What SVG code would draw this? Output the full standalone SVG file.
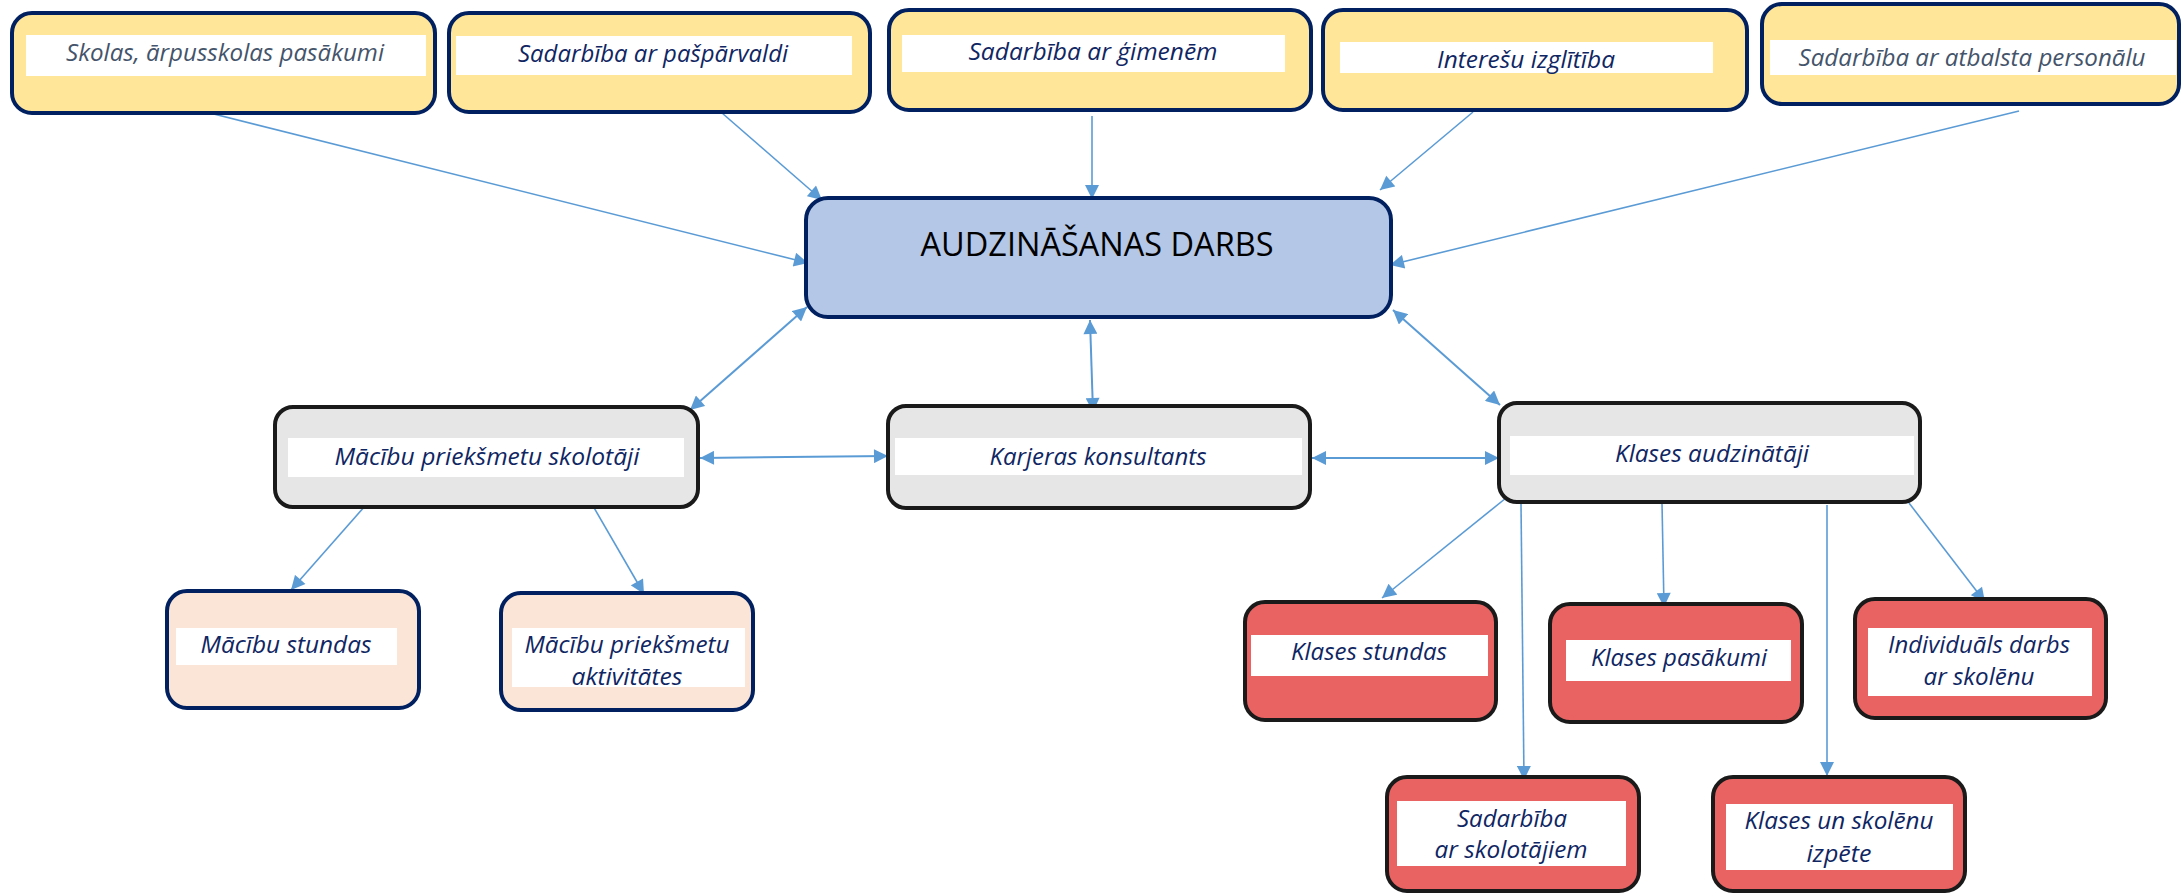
<svg xmlns="http://www.w3.org/2000/svg" width="2181" height="894" viewBox="0 0 2181 894">
<style>
.yel{fill:#ffe699;stroke:#002060;stroke-width:4}
.main{fill:#b4c7e7;stroke:#002060;stroke-width:4}
.gray{fill:#e6e6e6;stroke:#1a1a1a;stroke-width:4}
.peach{fill:#fbe5d6;stroke:#002060;stroke-width:4}
.red{fill:#e96363;stroke:#1a1a1a;stroke-width:4}
.lbl{fill:#ffffff;stroke:none}
.t{font-family:"Open Sans","Liberation Sans",sans-serif;font-style:italic;font-size:23px;fill:#0f2663;text-anchor:middle}
.ts{fill:#44546a}
.title{font-family:"Open Sans","Liberation Sans",sans-serif;font-size:32px;fill:#000;text-anchor:middle}
.c{stroke:#5b9bd5;stroke-width:1.6;fill:none;marker-end:url(#ah)}
.d{marker-start:url(#ah);stroke-width:2}
</style>
<defs>
<marker id="ah" viewBox="0 0 14 14" refX="14" refY="7" markerWidth="15" markerHeight="14" markerUnits="userSpaceOnUse" orient="auto-start-reverse">
<path d="M0,0 L14,7 L0,14 z" fill="#5b9bd5"/>
</marker>
</defs>

<g id="connectors">
<line class="c" x1="186" y1="107" x2="808" y2="263"/>
<line class="c" x1="722" y1="113" x2="822" y2="200"/>
<line class="c" x1="1092" y1="116" x2="1092" y2="199"/>
<line class="c" x1="1473" y1="112" x2="1380" y2="190"/>
<line class="c" x1="2019" y1="111" x2="1390" y2="265"/>
<line class="c d" x1="807" y1="307" x2="690" y2="410"/>
<line class="c d" x1="1090" y1="320" x2="1093" y2="412"/>
<line class="c d" x1="1393" y1="310" x2="1500" y2="405"/>
<line class="c d" x1="700" y1="458" x2="888" y2="456"/>
<line class="c d" x1="1312" y1="458" x2="1499" y2="458"/>
<line class="c" x1="365" y1="506" x2="291" y2="590"/>
<line class="c" x1="593" y1="506" x2="644" y2="594"/>
<line class="c" x1="1506" y1="498" x2="1382" y2="598"/>
<line class="c" x1="1662" y1="503" x2="1664" y2="607"/>
<line class="c" x1="1909" y1="503" x2="1985" y2="602"/>
<line class="c" x1="1521" y1="504" x2="1524" y2="780"/>
<line class="c" x1="1827" y1="505" x2="1827" y2="776"/>
</g>

<g id="n-skolas">
<rect class="yel" x="12" y="13" width="423" height="100" rx="20"/>
<rect class="lbl" x="26" y="35" width="400" height="41"/>
<text class="t ts" x="225" y="61" textLength="318" lengthAdjust="spacingAndGlyphs">Skolas, ārpusskolas pasākumi</text>
</g>
<g id="n-pasparvaldi">
<rect class="yel" x="449" y="13" width="421" height="99" rx="20"/>
<rect class="lbl" x="456" y="36" width="396" height="39"/>
<text class="t" x="653" y="62" textLength="270" lengthAdjust="spacingAndGlyphs">Sadarbība ar pašpārvaldi</text>
</g>
<g id="n-gimenem">
<rect class="yel" x="889" y="10" width="422" height="100" rx="20"/>
<rect class="lbl" x="902" y="35" width="383" height="37"/>
<text class="t" x="1093" y="60" textLength="249" lengthAdjust="spacingAndGlyphs">Sadarbība ar ģimenēm</text>
</g>
<g id="n-interesu">
<rect class="yel" x="1323" y="10" width="424" height="100" rx="20"/>
<rect class="lbl" x="1340" y="42" width="373" height="31"/>
<text class="t" x="1526" y="68" textLength="178" lengthAdjust="spacingAndGlyphs">Interešu izglītība</text>
</g>
<g id="n-atbalsta">
<rect class="yel" x="1762" y="4" width="417" height="100" rx="20"/>
<rect class="lbl" x="1770" y="40" width="406" height="35"/>
<text class="t ts" x="1972" y="66" textLength="347" lengthAdjust="spacingAndGlyphs">Sadarbība ar atbalsta personālu</text>
</g>

<g id="n-main">
<rect class="main" x="806" y="198" width="585" height="119" rx="22"/>
<text class="title" x="1097" y="256" textLength="353" lengthAdjust="spacingAndGlyphs">AUDZINĀŠANAS DARBS</text>
</g>

<g id="n-macibu-skolotaji">
<rect class="gray" x="275" y="407" width="423" height="100" rx="18"/>
<rect class="lbl" x="288" y="438" width="396" height="39"/>
<text class="t" x="487" y="465" textLength="305" lengthAdjust="spacingAndGlyphs">Mācību priekšmetu skolotāji</text>
</g>
<g id="n-karjeras">
<rect class="gray" x="888" y="406" width="422" height="102" rx="18"/>
<rect class="lbl" x="895" y="438" width="407" height="37"/>
<text class="t" x="1098" y="465" textLength="217" lengthAdjust="spacingAndGlyphs">Karjeras konsultants</text>
</g>
<g id="n-klases-audzinataji">
<rect class="gray" x="1499" y="403" width="421" height="99" rx="18"/>
<rect class="lbl" x="1510" y="436" width="404" height="39"/>
<text class="t" x="1712" y="462" textLength="194" lengthAdjust="spacingAndGlyphs">Klases audzinātāji</text>
</g>

<g id="n-macibu-stundas">
<rect class="peach" x="167" y="591" width="252" height="117" rx="20"/>
<rect class="lbl" x="176" y="628" width="221" height="37"/>
<text class="t" x="286" y="653" textLength="171" lengthAdjust="spacingAndGlyphs">Mācību stundas</text>
</g>
<g id="n-macibu-aktivitates">
<rect class="peach" x="501" y="593" width="252" height="117" rx="20"/>
<rect class="lbl" x="512" y="628" width="233" height="59"/>
<text class="t" x="627" y="653" textLength="205" lengthAdjust="spacingAndGlyphs">Mācību priekšmetu</text>
<text class="t" x="627" y="685" textLength="111" lengthAdjust="spacingAndGlyphs">aktivitātes</text>
</g>

<g id="n-klases-stundas">
<rect class="red" x="1245" y="602" width="251" height="118" rx="20"/>
<rect class="lbl" x="1251" y="635" width="237" height="41"/>
<text class="t" x="1369" y="660" textLength="156" lengthAdjust="spacingAndGlyphs">Klases stundas</text>
</g>
<g id="n-klases-pasakumi">
<rect class="red" x="1550" y="604" width="252" height="118" rx="20"/>
<rect class="lbl" x="1566" y="640" width="225" height="41"/>
<text class="t" x="1679" y="666" textLength="176" lengthAdjust="spacingAndGlyphs">Klases pasākumi</text>
</g>
<g id="n-individuals">
<rect class="red" x="1855" y="599" width="251" height="119" rx="20"/>
<rect class="lbl" x="1868" y="628" width="224" height="68"/>
<text class="t" x="1979" y="653" textLength="182" lengthAdjust="spacingAndGlyphs">Individuāls darbs</text>
<text class="t" x="1979" y="685" textLength="111" lengthAdjust="spacingAndGlyphs">ar skolēnu</text>
</g>
<g id="n-sadarbiba-skolotajiem">
<rect class="red" x="1387" y="777" width="252" height="114" rx="20"/>
<rect class="lbl" x="1397" y="801" width="229" height="65"/>
<text class="t" x="1512" y="827" textLength="110" lengthAdjust="spacingAndGlyphs">Sadarbība</text>
<text class="t" x="1511" y="858" textLength="153" lengthAdjust="spacingAndGlyphs">ar skolotājiem</text>
</g>
<g id="n-izpete">
<rect class="red" x="1713" y="777" width="252" height="114" rx="20"/>
<rect class="lbl" x="1726" y="804" width="227" height="66"/>
<text class="t" x="1839" y="829" textLength="189" lengthAdjust="spacingAndGlyphs">Klases un skolēnu</text>
<text class="t" x="1839" y="862" textLength="65" lengthAdjust="spacingAndGlyphs">izpēte</text>
</g>
</svg>
